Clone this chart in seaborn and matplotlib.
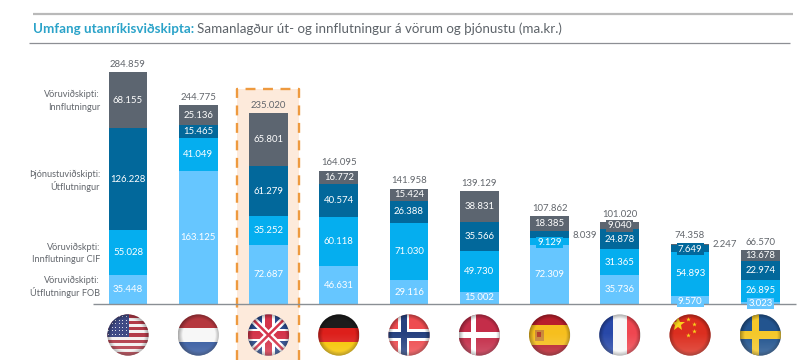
import numpy as np
import pandas as pd
import seaborn as sns
import matplotlib
matplotlib.use('Agg')
import matplotlib.pyplot as plt
from matplotlib.patches import Rectangle, Circle, Polygon

lond = ['USA', 'Holland', 'Bretland', 'Þýskaland', 'Noregur', 'Danmörk', 'Spánn', 'Frakkland', 'Kína', 'Svíþjóð']
vara_ut = [35.448, 163.125, 72.687, 46.631, 29.116, 15.002, 72.309, 35.736, 9.570, 3.023]
vara_inn = [55.028, 41.049, 35.252, 60.118, 71.030, 49.730, 9.129, 31.365, 54.893, 26.895]
thjon_ut = [126.228, 15.465, 61.279, 40.574, 26.388, 35.566, 8.039, 24.878, 7.649, 22.974]
thjon_inn = [68.155, 25.136, 65.801, 16.772, 15.424, 38.831, 18.385, 9.040, 2.247, 13.678]
samtals = [284.859, 244.775, 235.020, 164.095, 141.958, 139.129, 107.862, 101.020, 74.358, 66.570]

flokkar = [vara_ut, vara_inn, thjon_ut, thjon_inn]
litir = ['#66c6ff', '#05aeef', '#02689b', '#5c6570']

flokka_texti = [
    ('Vöruviðskipti:', 94), ('Innflutningur', 107),
    ('Þjónustuviðskipti:', 174), ('Útflutningur', 186),
    ('Vöruviðskpti:', 247), ('Innflutningur CIF', 259.5),
    ('Vöruviðskipti:', 280), ('Útflutningur FOB', 293),
]

sns.set_theme(style='white')
plt.rcParams['font.family'] = ['Lato', 'DejaVu Sans']

GRAY = '#62666c'
FS = 6.9
PX_X = 70.26
PX_Y = 0.813
X0 = 128.0
BASE = 304.0

fig = plt.figure(figsize=(8, 3.6), dpi=100)

# bakgrunnur i pixlum
bg = fig.add_axes([0, 0, 1, 1], zorder=0)
bg.set_xlim(0, 800)
bg.set_ylim(360, 0)
bg.axis('off')

# haus
bg.plot([33, 793], [14, 14], color='#b9b9b9', lw=1.6, solid_capstyle='butt')
bg.plot([29, 790], [43, 43], color='#8d8f94', lw=0.9, solid_capstyle='butt')
t1 = bg.text(33, 29, 'Umfang utanríkisviðskipta:', color='#2ba3c9', fontsize=9.6,
             fontweight='bold', va='center', ha='left')
fig.canvas.draw()
end = t1.get_window_extent().x1
bg.text(end + 3, 29, 'Samanlagður út- og innflutningur á vörum og þjónustu (ma.kr.)',
        color='#5d6369', fontsize=9.6, va='center', ha='left')

# aherslukassi
bg.add_patch(Rectangle((237, 89), 61.5, 271, facecolor='#fdeadb', edgecolor='none'))
bg.plot([237, 237, 298.5, 298.5], [360, 89, 89, 360], color='#ee9a3f', lw=1.7,
        dashes=(4.2, 3.2), solid_capstyle='butt')

for txt, y in flokka_texti:
    bg.text(100, y, txt, color=GRAY, fontsize=6.6, ha='right', va='center')


# fanar
def flag(cx, cy, r, name):
    clip = Circle((cx, cy), r, transform=bg.transData)

    def R(x0, y0, x1, y1, c):
        p = Rectangle((cx + x0 * r, cy + y0 * r), (x1 - x0) * r, (y1 - y0) * r,
                      facecolor=c, edgecolor='none')
        bg.add_patch(p)
        p.set_clip_path(clip)

    def L(x0, y0, x1, y1, c, lw):
        ln, = bg.plot([cx + x0 * r, cx + x1 * r], [cy + y0 * r, cy + y1 * r], color=c, lw=lw,
                      solid_capstyle='butt')
        ln.set_clip_path(clip)

    if name == 'USA':
        R(-1, -1, 1, 1, '#f4f1f1')
        for k in range(0, 13, 2):
            R(-1, -1 + k * 2 / 13, 1, -1 + (k + 1) * 2 / 13, '#b23a48')
        R(-1, -1, 0.05, 0.08, '#3f4a85')
        for yy in np.arange(-0.9, 0.05, 0.17):
            for xx in np.arange(-0.95, 0.05, 0.17):
                pt, = bg.plot(cx + xx * r, cy + yy * r, '.', color='white', ms=1.5, mew=0)
                pt.set_clip_path(clip)
    elif name == 'Holland':
        R(-1, -1, 1, -0.33, '#b5383f')
        R(-1, -0.33, 1, 0.36, '#f7f7f7')
        R(-1, 0.36, 1, 1, '#33589f')
    elif name == 'Bretland':
        R(-1, -1, 1, 1, '#2a4a8e')
        L(-1, -1, 1, 1, 'white', 5)
        L(-1, 1, 1, -1, 'white', 5)
        L(-1, -1, 1, 1, '#d4344a', 1.8)
        L(-1, 1, 1, -1, '#d4344a', 1.8)
        R(-1, -0.3, 1, 0.3, 'white')
        R(-0.3, -1, 0.3, 1, 'white')
        R(-1, -0.17, 1, 0.17, '#d4344a')
        R(-0.17, -1, 0.17, 1, '#d4344a')
    elif name == 'Þýskaland':
        R(-1, -1, 1, -0.33, '#1c1c1c')
        R(-1, -0.33, 1, 0.33, '#dd1f1b')
        R(-1, 0.33, 1, 1, '#f6c400')
    elif name == 'Noregur':
        R(-1, -1, 1, 1, '#ee4c50')
        R(-1, -0.27, 1, 0.27, 'white')
        R(-0.52, -1, 0.02, 1, 'white')
        R(-1, -0.13, 1, 0.13, '#27417f')
        R(-0.38, -1, -0.12, 1, '#27417f')
    elif name == 'Danmörk':
        R(-1, -1, 1, 1, '#c42d49')
        R(-1, -0.14, 1, 0.14, 'white')
        R(-0.42, -1, -0.14, 1, 'white')
    elif name == 'Spánn':
        R(-1, -1, 1, -0.5, '#b81f2c')
        R(-1, -0.5, 1, 0.5, '#f6bf1e')
        R(-1, 0.5, 1, 1, '#b81f2c')
        R(-0.72, -0.24, -0.28, 0.28, '#c98a3a')
        R(-0.6, -0.14, -0.4, 0.1, '#b5402c')
    elif name == 'Frakkland':
        R(-1, -1, -0.33, 1, '#2848a8')
        R(-0.33, -1, 0.33, 1, '#f7f7f7')
        R(0.33, -1, 1, 1, '#ef4650')
    elif name == 'Kína':
        R(-1, -1, 1, 1, '#dc2e1f')
        st, = bg.plot(cx - 0.6 * r, cy - 0.55 * r, '*', color='#f8d21c', ms=10, mew=0)
        st.set_clip_path(clip)
        for xx, yy in [(-0.1, -0.8), (0.2, -0.55), (0.2, -0.2), (-0.1, 0.0)]:
            st, = bg.plot(cx + xx * r, cy + yy * r, '*', color='#f8d21c', ms=3.5, mew=0)
            st.set_clip_path(clip)
    elif name == 'Svíþjóð':
        R(-1, -1, 1, 1, '#22548f')
        R(-1, -0.17, 1, 0.17, '#f4c82a')
        R(-0.42, -1, -0.08, 1, '#f4c82a')

    # sma skuggi vid brun
    yy, xx = np.mgrid[-1:1:80j, -1:1:80j]
    rr = np.hypot(xx, yy)
    ov = np.zeros((80, 80, 4))
    ov[..., 3] = np.clip((rr - 0.78) / 0.22, 0, 1) * 0.32
    im = bg.imshow(ov, extent=(cx - r, cx + r, cy + r, cy - r), aspect='auto', zorder=3)
    im.set_clip_path(clip)
    gl = np.ones((80, 80, 4))
    gl[..., 3] = np.clip((yy + 0.1) / 0.9, 0, 1) * 0.16
    im = bg.imshow(gl, extent=(cx - r, cx + r, cy + r, cy - r), aspect='auto', zorder=3)
    im.set_clip_path(clip)


for i, nafn in enumerate(lond):
    flag(X0 + i * PX_X, 335, 20.6, nafn)
bg.set_xlim(0, 800)
bg.set_ylim(360, 0)

# sulur
ax = fig.add_axes([0, 0, 1, 1], zorder=1)
ax.patch.set_alpha(0)
botn = np.zeros(len(lond))
for vals, lit in zip(flokkar, litir):
    sns.barplot(x=lond, y=vals, order=lond, bottom=botn, color=lit, saturation=1,
                width=0.55, linewidth=0, ax=ax)
    botn = botn + np.array(vals)
ax.set_xlim(-X0 / PX_X, (800 - X0) / PX_X)
ax.set_ylim(-(360 - BASE) / PX_Y, BASE / PX_Y)
ax.axis('off')
ax.hlines(0, (93 - X0) / PX_X, (796 - X0) / PX_X, color='#8a8f94', lw=1.0, zorder=4)

# gildi: (land, flokkur) -> midja textans, thar sem kassi er utan um litlu gildin
kassar = {(6, 1): 76, (8, 0): 3.5, (9, 0): 0.4, (7, 3): 96, (8, 2): 67.6}
utan = {(6, 2): 84, (8, 3): 73}
botn = np.zeros(len(lond))
for j, (vals, lit) in enumerate(zip(flokkar, litir)):
    for i, v in enumerate(vals):
        txt = f'{v:.3f}'
        mid = botn[i] + v / 2
        if (i, j) in utan:
            ax.text(i + 0.325, utan[(i, j)], txt, color=GRAY, fontsize=FS, ha='left',
                    va='center', zorder=6)
            continue
        kw = {}
        if (i, j) in kassar:
            mid = kassar[(i, j)]
            kw['bbox'] = dict(facecolor=lit, edgecolor='none', pad=0.8)
        ax.text(i, mid, txt, color='white', fontsize=FS, ha='center', va='center', zorder=6, **kw)
    botn = botn + np.array(vals)

for i, s in enumerate(samtals):
    ax.text(i, s + 9.5, f'{s:.3f}', color=GRAY, fontsize=FS, ha='center', va='center', zorder=6)

plt.savefig('out.png', dpi=100)
